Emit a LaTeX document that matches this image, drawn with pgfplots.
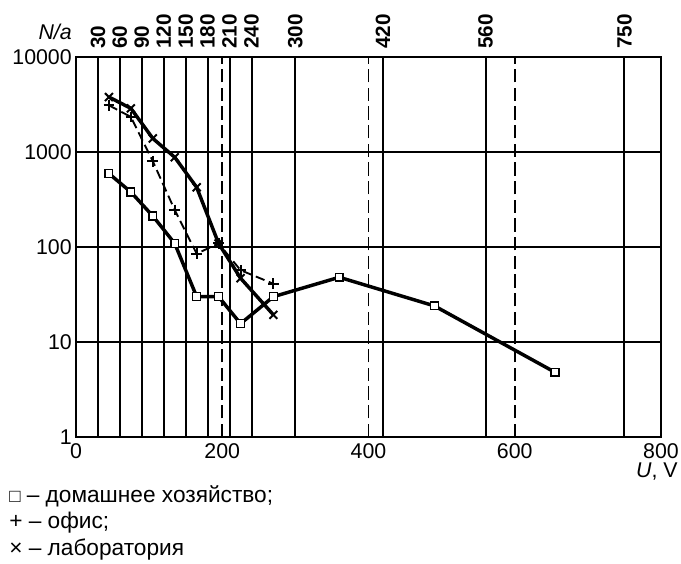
\documentclass[border=0pt]{standalone}
\usepackage{fontspec}
\setmainfont{Liberation Sans}
\usepackage{pgfplots}
\pgfplotsset{compat=1.18}
\newcommand{\tfont}{\fontsize{16}{16}\selectfont}
\newcommand{\topfont}{\fontsize{15.5}{15.5}\selectfont\bfseries}
\newcommand{\legfont}{\fontsize{17}{17}\selectfont}
\begin{document}
\begin{tikzpicture}
% axis carrying the top scale and the solid vertical lines
\begin{axis}[
  scale only axis, width=438.75pt, height=285pt,
  xmin=0, xmax=800, ymin=1, ymax=10000, ymode=log,
  axis x line*=top, axis y line=none,
  xtick={30,60,90,120,150,180,210,240,300,420,560,750},
  xticklabels={30,60,90,120,150,180,210,240,300,420,560,750},
  tick label style={font=\topfont},
  xticklabel style={rotate=90, anchor=west, inner xsep=6pt, inner ysep=0pt},
  major tick length=0pt,
  xmajorgrids, x grid style={black, line width=1.5pt},
  x axis line style={draw=none},
  ytick=\empty, yminorticks=false,
]
\addplot[draw=none] coordinates {(0,1)};
\end{axis}
% main axis
\begin{axis}[
  scale only axis, width=438.75pt, height=285pt,
  xmin=0, xmax=800, ymin=1, ymax=10000, ymode=log,
  xtick={0,200,400,600,800}, xticklabels={0,200,400,600,800},
  ytick={1,10,100,1000,10000}, yticklabels={1,10,100,1000,10000},
  yminorticks=false,
  major tick length=0pt,
  xmajorgrids, ymajorgrids,
  x grid style={black, line width=1.4pt, dash pattern=on 10pt off 4pt},
  y grid style={black, line width=1.5pt},
  axis line style={line width=1.6pt},
  tick label style={font=\tfont},
  xticklabel style={anchor=north, inner sep=0pt, yshift=-4.5pt},
  yticklabel style={anchor=east, inner sep=0pt, xshift=-3pt},
  clip=false,
]
\coordinate (bl) at (rel axis cs:0,0);
\coordinate (tl) at (rel axis cs:0,1);
\coordinate (tr) at (rel axis cs:1,1);
\coordinate (br) at (rel axis cs:1,0);
% офис
\addplot[black, line width=1.4pt, dash pattern=on 7pt off 3.5pt, mark=+, mark size=4pt,
  mark options={solid, line width=1.5pt}] coordinates {
  (45,3100) (75,2340) (105,800) (135,245) (165,85) (195,109) (225,57) (270,41)};
% лаборатория
\addplot[black, line width=2.6pt, mark=x, mark size=4.2pt,
  mark options={solid, line width=1.5pt}] coordinates {
  (45,3790) (75,2880) (105,1390) (135,880) (165,425) (195,109) (225,47) (270,19.3)};
% домашнее хозяйство
\addplot[black, line width=2.6pt, mark=square*, mark size=2.9pt,
  mark options={solid, fill=white, line width=1pt}] coordinates {
  (45,593) (75,379) (105,212) (135,109) (165,30) (195,30) (225,15.6) (270,30)
  (360,48) (490,24) (655,4.8)};
\end{axis}
\node[anchor=base east, font=\tfont\itshape, inner sep=0pt] at ([xshift=-3pt,yshift=12.75pt]tl) {N/a};
\node[anchor=base east, font=\tfont, inner sep=0pt] at ([xshift=12.75pt,yshift=-30.75pt]br) {\textit{U}, V};
\node[anchor=base west, font=\legfont, inner sep=0pt] at ([xshift=-50.25pt,yshift=-49.5pt]bl) {{\fontsize{14}{14}\selectfont □} – домашнее хозяйство;};
\node[anchor=base west, font=\legfont, inner sep=0pt] at ([xshift=-50.25pt,yshift=-69pt]bl) {+ – офис;};
\node[anchor=base west, font=\legfont, inner sep=0pt] at ([xshift=-50.25pt,yshift=-89.25pt]bl) {× – лаборатория};
\pgfresetboundingbox
\path ([xshift=-57pt,yshift=-95.25pt]bl) rectangle ([xshift=15pt,yshift=42.75pt]tr);
\end{tikzpicture}
\end{document}
